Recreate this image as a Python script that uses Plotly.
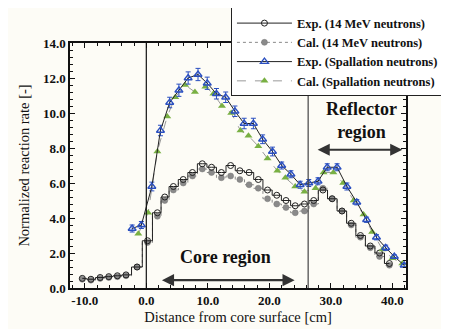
import plotly.graph_objects as go

# ---- data ----
x_14 = [-10.4, -9.0, -7.5, -6.1, -4.7, -3.3, -1.5, 0.2, 1.8, 3.0, 4.4, 6.0, 7.5, 9.1,
        10.6, 12.2, 13.7, 15.2, 16.7, 18.2, 19.7, 21.2, 22.7, 24.2, 25.7, 27.2, 28.7,
        30.2, 31.8, 33.3, 34.8, 36.4, 37.9, 39.5]
exp_14 = [0.55, 0.5, 0.6, 0.65, 0.7, 0.75, 1.2, 2.7, 4.3, 5.2, 5.8, 6.2, 6.6, 7.1,
          6.9, 6.6, 7.0, 6.7, 6.6, 6.2, 5.6, 5.3, 5.0, 4.7, 4.8, 5.0, 5.6,
          5.1, 4.4, 3.7, 3.0, 2.4, 2.0, 1.4]
cal_14 = [0.5, 0.45, 0.55, 0.6, 0.65, 0.7, 1.2, 2.6, 4.1, 5.0, 5.6, 6.0, 6.4, 6.8,
          6.6, 6.3, 6.4, 6.2, 5.9, 5.7, 5.1, 4.8, 4.6, 4.3, 4.4, 4.8, 5.7,
          5.1, 4.4, 3.6, 2.9, 2.3, 1.8, 1.3]

x_sp_exp = [-2.3, -0.8, 0.9, 2.3, 3.8, 5.3, 6.8, 8.4, 9.9, 11.4, 12.9, 14.4, 15.9,
            17.4, 18.9, 20.5, 22.0, 23.5, 25.0, 26.4, 27.9, 29.4, 31.0, 32.6, 34.2,
            35.8, 37.4, 38.9, 40.3, 41.9]
exp_sp = [3.4, 3.6, 5.8, 9.0, 10.6, 11.3, 12.0, 12.2, 11.7, 11.1, 10.9, 10.1, 9.4,
          9.4, 8.5, 7.8, 7.0, 6.5, 5.9, 6.0, 6.1, 6.9, 6.9, 5.8, 4.9,
          3.9, 2.9, 2.3, 1.8, 1.3]
err_sp = [0.2, 0.2, 0.25, 0.3, 0.3, 0.35, 0.35, 0.35, 0.35, 0.3, 0.3, 0.3, 0.3,
          0.3, 0.25, 0.25, 0.2, 0.2, 0.2, 0.2, 0.2, 0.2, 0.2, 0.2, 0.15,
          0.15, 0.15, 0.15, 0.1, 0.1]

x_sp_cal = [-1.3, 0.3, 1.8, 3.4, 4.7, 6.3, 7.9, 9.6, 10.9, 12.3, 13.8, 15.3, 16.6,
            18.2, 19.7, 21.3, 22.6, 24.2, 25.7, 27.5, 28.8, 30.4, 32.0, 33.7, 35.3,
            36.7, 38.4, 40.0, 41.6]
cal_sp = [3.1, 4.3, 7.8, 9.8, 10.9, 11.6, 11.2, 11.5, 11.1, 10.4, 10.0, 9.0, 8.7,
          8.1, 7.4, 6.7, 6.3, 5.8, 5.5, 5.7, 6.6, 6.6, 6.0, 5.0, 4.2,
          3.2, 2.2, 1.7, 1.4]

core_boundary = [0.0, 26.3]

x_ticks = [-10, 0, 10, 20, 30, 40]
y_ticks = [0, 2, 4, 6, 8, 10, 12, 14]

SERIF = "Liberation Serif, Times New Roman, serif"

fig = go.Figure()

fig.add_trace(go.Scatter(
    x=x_14, y=cal_14, mode="lines+markers", name="<b>Cal. (14 MeV neutrons)</b>",
    legendrank=2,
    line=dict(color="#8a8a8a", width=1, dash="dot", shape="hvh"),
    marker=dict(symbol="circle", size=6, color="#8a8a8a", line=dict(color="#777", width=0.5))))
fig.add_trace(go.Scatter(
    x=x_14, y=exp_14, mode="lines+markers", name="<b>Exp. (14 MeV neutrons)</b>",
    legendrank=1,
    line=dict(color="#222", width=1, shape="hvh"),
    marker=dict(symbol="circle-open", size=6, color="#222", line=dict(width=1))))
fig.add_trace(go.Scatter(
    x=x_sp_cal, y=cal_sp, mode="lines+markers", name="<b>Cal. (Spallation neutrons)</b>",
    legendrank=4,
    line=dict(color="#999", width=1, dash="dash"),
    marker=dict(symbol="triangle-up", size=7, color="#79b043")))
fig.add_trace(go.Scatter(
    x=x_sp_exp, y=exp_sp, mode="lines+markers", name="<b>Exp. (Spallation neutrons)</b>",
    legendrank=3,
    line=dict(color="#222", width=1),
    error_y=dict(type="data", array=err_sp, color="#2a4fc0", thickness=1, width=2.5),
    marker=dict(symbol="triangle-up-open", size=7, color="#2a4fc0", line=dict(width=1.3))))

# boundary lines
for i, xb in enumerate(core_boundary):
    fig.add_shape(type="line", xref="x", yref="paper", x0=xb, x1=xb, y0=0, y1=1,
                  line=dict(color="#111" if i == 0 else "#444", width=1.2))

# region arrows (double-headed)
def double_arrow(x0, x1, y):
    fig.add_annotation(x=x1, y=y, ax=x0, ay=y, xref="x", yref="y",
                       axref="x", ayref="y", text="", showarrow=True,
                       arrowhead=2, startarrowhead=2, arrowside="end+start",
                       arrowsize=1.1, startarrowsize=1.1, arrowwidth=2.2, arrowcolor="#333")

double_arrow(2.3, 24.1, 0.45)
double_arrow(27.6, 41.6, 7.9)

fig.add_annotation(x=12.8, y=1.75, xref="x", yref="y", text="<b>Core region</b>",
                   showarrow=False, font=dict(family=SERIF, size=18, color="#111"))
fig.add_annotation(x=35.0, y=9.6, xref="x", yref="y", text="<b>Reflector<br>region</b>",
                   showarrow=False, font=dict(family=SERIF, size=18, color="#111"))

# page body has an 8px margin: figure is 441x321 so it fits the 449x329 window
fig.update_layout(
    width=441, height=321,
    margin=dict(l=62, r=43, t=35, b=41, autoexpand=False),
    paper_bgcolor="#fdfcf6", plot_bgcolor="#fdfcf6",
    font=dict(family=SERIF, size=12, color="#111"),
    legend=dict(x=0.479, y=1.145, xanchor="left", yanchor="top",
                bgcolor="#ffffff", bordercolor="#222", borderwidth=1,
                font=dict(family=SERIF, size=12.5, color="#111"),
                itemwidth=55, tracegroupgap=0),
    showlegend=True,
)
fig.update_xaxes(
    range=[-12.4, 42.2], tickvals=x_ticks,
    ticktext=["<b>%.1f</b>" % v for v in x_ticks],
    ticks="inside", ticklen=5, tickwidth=1.2, tickcolor="#111",
    minor=dict(dtick=2, ticks="inside", ticklen=3, tickcolor="#111"),
    showline=True, linecolor="#111", linewidth=1.5, mirror="ticks",
    showgrid=False, zeroline=False,
    title=dict(text="Distance from core surface [cm]", font=dict(family=SERIF, size=14.5), standoff=5),
    tickfont=dict(family=SERIF, size=13))
fig.update_yaxes(
    range=[0, 14], tickvals=y_ticks,
    ticktext=["<b>%.1f</b>" % v for v in y_ticks],
    ticks="inside", ticklen=5, tickwidth=1.2, tickcolor="#111",
    minor=dict(dtick=0.4, ticks="inside", ticklen=3, tickcolor="#111"),
    showline=True, linecolor="#111", linewidth=1.5, mirror="ticks",
    showgrid=False, zeroline=False,
    title=dict(text="Normalized reaction rate [-]", font=dict(family=SERIF, size=14.5), standoff=10),
    tickfont=dict(family=SERIF, size=13))

fig.write_html("out.html")
